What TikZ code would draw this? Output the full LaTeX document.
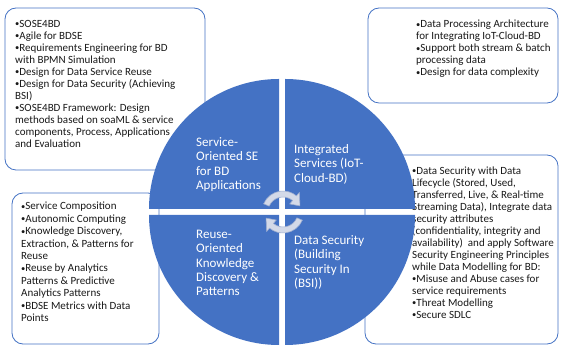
\documentclass[tikz,border=0pt]{standalone}
\usepackage{fontspec}
\setmainfont{Carlito}
\definecolor{qblue}{HTML}{4472C4}
\definecolor{arrfill}{HTML}{D3D9E8}
\definecolor{arrline}{HTML}{9DADD0}
\newcommand\bul{{\fontsize{8.5}{12}\selectfont\raisebox{0.6pt}{•}}}
\begin{document}
\begin{tikzpicture}[x=1pt,y=1pt,
  infobox/.style={draw=qblue,line width=0.8pt,rounded corners=11pt,fill=white},
  boxtext/.style={anchor=north west,inner sep=0pt,align=left,text=black!90,font=\fontsize{11}{12}\selectfont},
  boxtextb/.style={anchor=north west,inner sep=0pt,align=left,text=black!90,font=\fontsize{11}{12.4}\selectfont},
  quad/.style={fill=qblue},
  quadtext/.style={anchor=north west,inner sep=0pt,align=left,text=white,font=\fontsize{13}{14.3}\selectfont},
  cyc/.style={fill=arrfill,draw=arrline,line width=0.6pt,line join=round}]
\useasboundingbox (0,0) rectangle (561,347);
% info boxes
\draw[infobox] (5,177) rectangle (205,339);
\draw[infobox] (368,244) rectangle (558,339);
\draw[infobox] (12,3) rectangle (159,154);
\draw[infobox] (365,3) rectangle (558,192);
\node[boxtext] (t1) at (15,328.4) {\strut\bul SOSE4BD\\\bul Agile for BDSE\\\bul Requirements Engineering for BD\\with BPMN Simulation\\\bul Design for Data Service Reuse\\\bul Design for Data Security (Achieving\\BSI)\\\bul SOSE4BD Framework: Design\\methods based on soaML \& service\\components, Process, Applications\\and Evaluation};
\node[boxtext] (t2) at (416,327.9) {\strut\bul Data Processing Architecture\\for Integrating IoT-Cloud-BD\\\bul Support both stream \& batch\\processing data\\\bul Design for data complexity};
\node[boxtextb] (t3) at (21,146) {\strut\bul Service Composition\\\bul Autonomic Computing\\\bul Knowledge Discovery,\\Extraction, \& Patterns for\\Reuse\\\bul Reuse by Analytics\\Patterns \& Predictive\\Analytics Patterns\\\bul BDSE Metrics with Data\\Points};
\node[boxtext] (t4) at (412,181) {\strut\bul Data Security with Data\\Lifecycle (Stored, Used,\\Transferred, Live, \& Real-time\\Streaming Data), Integrate data\\security attributes\\(confidentiality, integrity and\\availability)\ \ and apply Software\\Security Engineering Principles\\while Data Modelling for BD:\\\bul Misuse and Abuse cases for\\service requirements\\\bul Threat Modelling\\\bul Secure SDLC};
% quadrants
\fill[quad] (279,138) -- (149,138) arc[start angle=180,end angle=90,radius=130] -- cycle;
\fill[quad] (285,138) -- (285,268) arc[start angle=90,end angle=0,radius=130] -- cycle;
\fill[quad] (279,132) -- (149,132) arc[start angle=180,end angle=270,radius=130] -- cycle;
\fill[quad] (285,132) -- (415,132) arc[start angle=0,end angle=-90,radius=130] -- cycle;
\node[quadtext] (q1) at (196,210.8) {\strut Service-\\Oriented SE\\for BD\\Applications};
\node[quadtext] (q2) at (294,203.8) {\strut Integrated\\Services (IoT-\\Cloud-BD)};
\node[quadtext] (q3) at (196,118.8) {\strut Reuse-\\Oriented\\Knowledge\\Discovery \&\\Patterns};
\node[quadtext] (q4) at (294,112.8) {\strut Data Security\\(Building\\Security In\\(BSI))};
% cycle arrows
\begin{scope}[shift={(283,135)}]
\draw[cyc] (157:21) arc[start angle=157,end angle=50,radius=21] -- (50:25.5) -- (20:18) -- (50:10.5) -- (50:15) arc[start angle=50,end angle=157,radius=15] -- cycle;
\draw[cyc] (337:21) arc[start angle=337,end angle=230,radius=21] -- (230:25.5) -- (200:18) -- (230:10.5) -- (230:15) arc[start angle=230,end angle=337,radius=15] -- cycle;
\end{scope}
\end{tikzpicture}
\end{document}
